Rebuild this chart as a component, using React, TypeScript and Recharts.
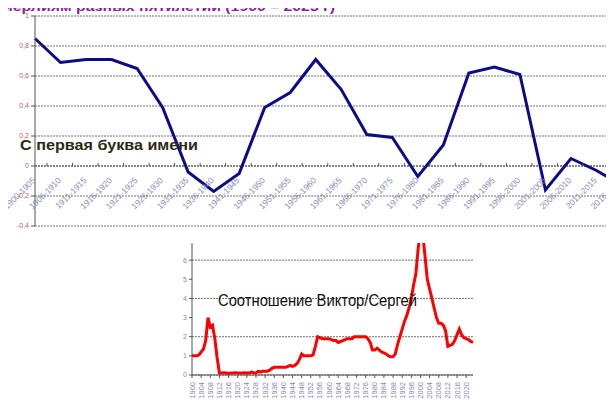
import { LineChart, Line, XAxis, YAxis, CartesianGrid, ReferenceLine } from "recharts";

// Top chart: share of names starting with "С", by five-year period
const periods = [
  "1900-1905", "1906-1910", "1911-1915", "1916-1920", "1921-1925", "1926-1930",
  "1931-1935", "1936-1940", "1941-1945", "1946-1950", "1951-1955", "1956-1960",
  "1961-1965", "1966-1970", "1971-1975", "1976-1980", "1981-1985", "1986-1990",
  "1991-1995", "1996-2000", "2001-2005", "2006-2010", "2011-2015", "2016-2020",
];
const letterC = [
  0.85, 0.69, 0.71, 0.71, 0.65, 0.39, -0.04, -0.17, -0.05, 0.39, 0.49, 0.71,
  0.51, 0.21, 0.19, -0.07, 0.14, 0.62, 0.66, 0.61, -0.16, 0.05, -0.03, -0.13,
];
const topTicks = [-0.4, -0.2, 0, 0.2, 0.4, 0.6, 0.8, 1];

// Bottom chart: Виктор / Сергей ratio by year
const firstYear = 1900;
const ratio = [
  1.0, 1.0, 1.0, 1.05, 1.2, 1.35, 1.8, 3.0, 2.5, 2.6, // 1900-1909
  1.9, 0.9, 0.1, 0.1, 0.12, 0.1, 0.08, 0.1, 0.1, 0.12, // 1910-1919
  0.1, 0.1, 0.1, 0.12, 0.1, 0.1, 0.15, 0.12, 0.1, 0.2, // 1920-1929
  0.15, 0.2, 0.2, 0.2, 0.25, 0.35, 0.4, 0.4, 0.4, 0.4, // 1930-1939
  0.4, 0.4, 0.45, 0.5, 0.45, 0.5, 0.6, 0.8, 1.1, 1.0, // 1940-1949
  1.0, 1.0, 1.0, 1.05, 1.5, 2.0, 1.95, 1.9, 1.9, 1.9, // 1950-1959
  1.9, 1.85, 1.8, 1.8, 1.7, 1.75, 1.8, 1.85, 1.9, 1.9, // 1960-1969
  1.9, 2.0, 2.0, 2.0, 2.0, 2.0, 2.0, 1.9, 1.7, 1.3, // 1970-1979
  1.3, 1.4, 1.3, 1.2, 1.15, 1.1, 1.0, 0.95, 0.95, 1.1, // 1980-1989
  1.6, 2.0, 2.4, 2.8, 3.1, 3.5, 4.0, 4.7, 5.3, 6.6, // 1990-1999
  7.6, 7.4, 6.2, 5.0, 4.5, 4.0, 3.5, 3.0, 2.7, 2.7, // 2000-2009
  2.6, 2.3, 1.5, 1.55, 1.6, 1.8, 2.1, 2.4, 2.1, 1.95, // 2010-2019
  1.9, 1.85, 1.75, 1.7, // 2020-2023
];
const bottomTicks = [0, 1, 2, 3, 4, 5, 6];

const topData = periods.map((p, i) => ({ period: p, value: letterC[i] }));
const bottomData = ratio.map((v, i) => ({ year: String(firstYear + i), value: v }));

const TOP_W = 640;
const TOP_H = 243;
const topMargin = { top: 16, right: 18, left: 0, bottom: 16 };
const X_AXIS_H = 1;
const plotTop = topMargin.top;
const plotBottom = TOP_H - topMargin.bottom - X_AXIS_H;
const zeroY = plotTop + (1 / 1.4) * (plotBottom - plotTop);

const gridColor = "#707070";
const comma = (v: number) => String(Math.round(v * 10) / 10).replace(".", ",");

function PeriodTick(props: any) {
  const { x, payload } = props;
  const half = payload.offset || 12;
  const ax = x + 1;
  const ay = zeroY + 15;
  return (
    <g>
      <line x1={x + half} x2={x + half} y1={zeroY - 3} y2={zeroY} stroke="#555" />
      <text
        x={ax}
        y={ay}
        textAnchor="end"
        fontSize={8.5}
        fill="#8a8cba"
        fontFamily="Liberation Sans, sans-serif"
        transform={`rotate(-45 ${ax} ${ay})`}
      >
        {payload.value}
      </text>
    </g>
  );
}

function YearTick(props: any) {
  const { x, y, payload } = props;
  const ay = y + 2;
  return (
    <text
      x={x + 2.5}
      y={ay}
      textAnchor="end"
      fontSize={7.5}
      fill="#8486b8"
      fontFamily="Liberation Sans, sans-serif"
      transform={`rotate(-90 ${x + 2.5} ${ay})`}
    >
      {payload.value}
    </text>
  );
}

export default function App() {
  return (
    <div
      style={{
        position: "relative",
        width: 614,
        height: 411,
        margin: -8,
        overflow: "hidden",
        background: "#fff",
        fontFamily: "Liberation Sans, sans-serif",
      }}
    >
      {/* Bottom chart */}
      <div style={{ position: "absolute", left: 165, top: 236 }}>
        <LineChart width={318} height={180} data={bottomData} margin={{ top: 5, right: 10, left: 0, bottom: 5 }}>
          <CartesianGrid vertical={false} stroke={gridColor} strokeDasharray="2 1" />
          <XAxis
            dataKey="year"
            interval={3}
            height={36}
            tick={<YearTick />}
            tickSize={3}
            stroke="#555"
          />
          <YAxis
            width={27}
            domain={[0, 7]}
            ticks={bottomTicks}
            allowDataOverflow
            tickSize={3}
            stroke="#555"
            tick={{ fontSize: 7, fill: "#8486b8" }}
          />
          <Line
            dataKey="value"
            stroke="#ff0000"
            strokeWidth={3}
            dot={false}
            type="linear"
            isAnimationActive={false}
          />
        </LineChart>
      </div>

      {/* Top chart */}
      <div style={{ position: "absolute", left: 0, top: 0, background: "#fff" }}>
        <LineChart width={TOP_W} height={TOP_H} data={topData} margin={topMargin}>
          <CartesianGrid vertical={false} stroke={gridColor} strokeDasharray="2 1" />
          <XAxis
            dataKey="period"
            height={X_AXIS_H}
            axisLine={false}
            tickLine={false}
            tick={<PeriodTick />}
            interval={0}
          />
          <YAxis
            width={35}
            domain={[-0.4, 1]}
            ticks={topTicks}
            tickFormatter={comma}
            tickSize={4}
            stroke="#555"
            tick={{ fontSize: 7, fill: "#b0685e" }}
          />
          <ReferenceLine y={0} stroke="#555" strokeDasharray="2 1" />
          <Line
            dataKey="value"
            stroke="#0c0c8a"
            strokeWidth={3}
            dot={false}
            type="linear"
            isAnimationActive={false}
          />
        </LineChart>
      </div>

      {/* Titles and series labels */}
      <svg width={614} height={411} style={{ position: "absolute", left: 0, top: 0, pointerEvents: "none" }}>
        <text x={1} y={11} fontSize={13} fontWeight="bold" fill="#8a1fa0" textLength={334} lengthAdjust="spacingAndGlyphs">
          мерлиям разных пятилетий (1900 – 2023 г)
        </text>
        <text x={20} y={150} fontSize={15} fontWeight="bold" fill="#2b2b14" textLength={178} lengthAdjust="spacingAndGlyphs">
          С первая буква имени
        </text>
        <text x={218} y={306} fontSize={16} fill="#111" textLength={199} lengthAdjust="spacingAndGlyphs">
          Соотношение Виктор/Сергей
        </text>
      </svg>
    </div>
  );
}
